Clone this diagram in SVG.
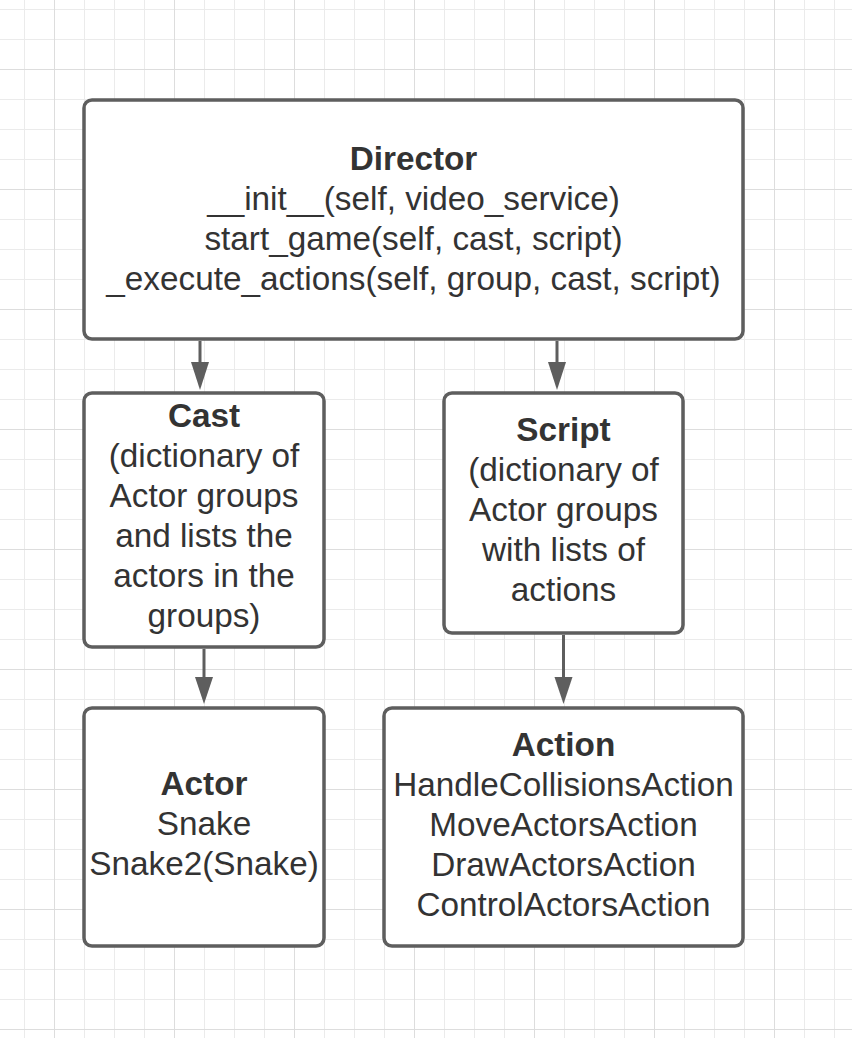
<svg xmlns="http://www.w3.org/2000/svg" width="852" height="1038" viewBox="0 0 852 1038">
<defs>
<pattern id="minor" x="24" y="9" width="30" height="30" patternUnits="userSpaceOnUse">
<path d="M0.5 0V30M0 0.5H30" stroke="#ebebeb" stroke-width="1" fill="none"/>
</pattern>
<pattern id="major" x="54" y="69" width="120" height="120" patternUnits="userSpaceOnUse">
<path d="M0.5 0V120M0 0.5H120" stroke="#dddddd" stroke-width="1" fill="none"/>
</pattern>
</defs>
<style>
.box{fill:#ffffff;stroke:#5e5e5e;stroke-width:3.5}
.t{font-family:"Liberation Sans",Arial,sans-serif;font-size:33.3px;fill:#333333;text-anchor:middle}
.b{font-weight:bold}
.ln{stroke:#5e5e5e;stroke-width:3;fill:none}
.hd{fill:#5e5e5e;stroke:none}
</style>
<rect width="852" height="1038" fill="#ffffff"/>
<rect width="852" height="1038" fill="url(#minor)"/>
<rect width="852" height="1038" fill="url(#major)"/>
<g id="connectors">
<path class="ln" d="M200 341V364"/>
<polygon class="hd" points="191,362 209,362 200,390"/>
<path class="ln" d="M557 341V364"/>
<polygon class="hd" points="548,362 566,362 557,390"/>
<path class="ln" d="M204 649V679"/>
<polygon class="hd" points="195,677 213,677 204,704"/>
<path class="ln" d="M563.5 635V679"/>
<polygon class="hd" points="554.5,677 572.5,677 563.5,704"/>
</g>
<g id="director">
<rect class="box" x="84" y="100" width="659" height="239" rx="8"/>
<text class="t b" x="413.5" y="170">Director</text>
<text class="t" x="413.5" y="210">__init__(self, video_service)</text>
<text class="t" x="413.5" y="250">start_game(self, cast, script)</text>
<text class="t" x="413.5" y="290">_execute_actions(self, group, cast, script)</text>
</g>
<g id="cast">
<rect class="box" x="84" y="393" width="240" height="254" rx="8"/>
<text class="t b" x="204" y="427">Cast</text>
<text class="t" x="204" y="467">(dictionary of</text>
<text class="t" x="204" y="507">Actor groups</text>
<text class="t" x="204" y="547">and lists the</text>
<text class="t" x="204" y="587">actors in the</text>
<text class="t" x="204" y="627">groups)</text>
</g>
<g id="script">
<rect class="box" x="444" y="393" width="239" height="240" rx="8"/>
<text class="t b" x="563.5" y="441">Script</text>
<text class="t" x="563.5" y="481">(dictionary of</text>
<text class="t" x="563.5" y="521">Actor groups</text>
<text class="t" x="563.5" y="561">with lists of</text>
<text class="t" x="563.5" y="601">actions</text>
</g>
<g id="actor">
<rect class="box" x="84" y="708" width="240" height="238" rx="8"/>
<text class="t b" x="204" y="795">Actor</text>
<text class="t" x="204" y="835">Snake</text>
<text class="t" x="204" y="875">Snake2(Snake)</text>
</g>
<g id="action">
<rect class="box" x="384" y="708" width="359" height="238" rx="8"/>
<text class="t b" x="563.5" y="756">Action</text>
<text class="t" x="563.5" y="796">HandleCollisionsAction</text>
<text class="t" x="563.5" y="836">MoveActorsAction</text>
<text class="t" x="563.5" y="876">DrawActorsAction</text>
<text class="t" x="563.5" y="916">ControlActorsAction</text>
</g>
</svg>
